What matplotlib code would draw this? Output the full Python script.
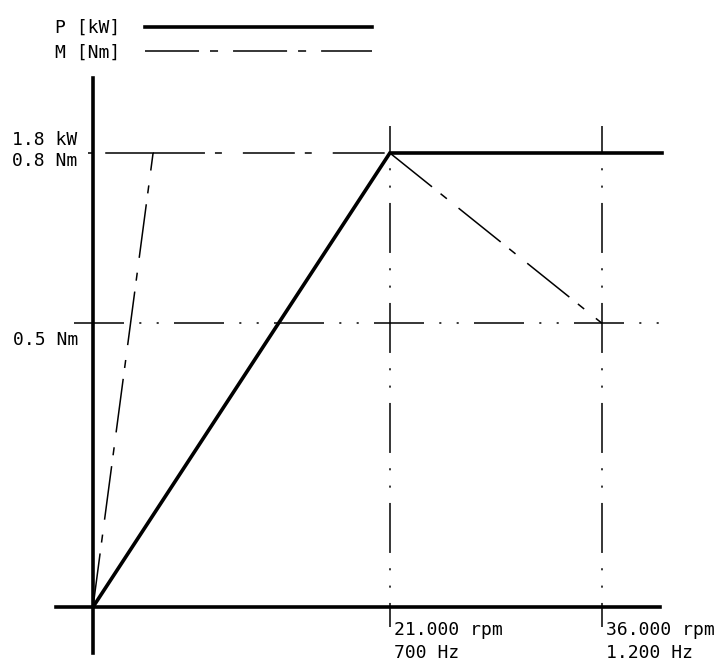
import numpy as np
import matplotlib
matplotlib.use('Agg')
import matplotlib.pyplot as plt

plt.rcParams['font.family'] = ['DejaVu Sans Mono', 'DejaVu Sans']
plt.rcParams['font.size'] = 13
plt.rcParams['lines.scale_dashes'] = False

#%% Daten (Drehzahl in rpm, Leistung in kW, Moment in Nm)
n_p = [0, 21000, 40250]           # P-Kurve
p_kw = [0, 1.8, 1.8]
n_m_rise = [0, 4250]              # M-Anstieg
m_rise = [0, 0.8]
n_m_flat = [4250, 21000]          # M konstant
m_flat = [0.8, 0.8]
n_m_fall = [21000, 36000]         # M-Abfall (Feldschwaechung)
m_fall = [0.8, 0.5]
n_m_ref = [920, 4250]             # Hilfslinie 0.8 Nm links
m_ref_line = [0.8, 0.8]

n_marks = [21000, 36000]
rpm_labels = ['21.000 rpm', '36.000 rpm']
hz_labels = ['700 Hz', '1.200 Hz']

p_max = 1.8
m_max = 0.8
m_ref = 0.5

#%% Skalierung (Pixel -> Daten)
W, H = 719, 664
x0_px, y0_px = 93, 607           # Ursprung in Pixeln
px_per_rpm = 14.137 / 1000
px_per_kw = 454 / 1.8
px_per_nm = 454 / 0.8

fig = plt.figure(figsize=(W/100, H/100), dpi=100)
ax = fig.add_axes([0, 0, 1, 1])
ax.set_xlim(-x0_px/px_per_rpm, (W - x0_px)/px_per_rpm)
ax.set_ylim(-(H - y0_px)/px_per_kw, y0_px/px_per_kw)
ax2 = ax.twinx()
ax2.set_ylim(-(H - y0_px)/px_per_nm, y0_px/px_per_nm)

for a in (ax, ax2):
    a.set_xticks([])
    a.set_yticks([])
    for s in a.spines.values():
        s.set_visible(False)
    a.patch.set_visible(False)

# Achsen
ax.spines['left'].set_visible(True)
ax.spines['left'].set_position(('data', 0))
ax.spines['left'].set_bounds(-46/px_per_kw, 529/px_per_kw)
ax.spines['left'].set_linewidth(2.6)
ax.spines['bottom'].set_visible(True)
ax.spines['bottom'].set_position(('data', 0))
ax.spines['bottom'].set_bounds(-37/px_per_rpm, 567/px_per_rpm)
ax.spines['bottom'].set_linewidth(2.6)

dash_m = (0, (38.9, 7.9, 5.8, 10.8))             # lang - kurz
dash_flat = (0, (37.4, 7.2, 5.0, 15.1))
dash_ref = (0, (36, 11, 1.5, 11, 1.5, 11))       # strich - punkt - punkt
dash_vert = (16.6, (36, 11, 1.5, 11, 1.5, 11))

# P-Kurve
ax.plot(n_p, p_kw, '-k', linewidth=2.6, solid_joinstyle='miter', label='P [kW]')

# M-Kurve
ax2.plot(n_m_rise, m_rise, color='k', linewidth=1.1, linestyle=dash_m)
ax2.plot(n_m_flat, m_flat, color='k', linewidth=1.1, linestyle=dash_flat)
ax2.plot(n_m_fall, m_fall, color='k', linewidth=1.1, linestyle=dash_m)
ax2.plot(n_m_ref, m_ref_line, color='k', linewidth=1.1)
ax2.plot([], [], color='k', linewidth=1.1, linestyle=dash_m, label='M [Nm]')

# Hilfslinien
ax2.hlines(m_ref, -19/px_per_rpm, 567/px_per_rpm, color='k', linewidth=1.1,
           linestyle=dash_ref)
ax2.hlines(m_max, -5/px_per_rpm, 0, color='k', linewidth=1.1)
for n in n_marks:
    ax.plot([n, n], [481/px_per_kw, -20/px_per_kw], color='k', linewidth=1.1,
            linestyle=dash_vert)

# Beschriftungen y
ax.annotate('1.8 kW', xy=(0, p_max), xytext=(-81, 13), textcoords='offset pixels',
            ha='left', va='center')
ax2.annotate('0.8 Nm', xy=(0, m_max), xytext=(-81, -8), textcoords='offset pixels',
             ha='left', va='center')
ax2.annotate('0.5 Nm', xy=(0, m_ref), xytext=(-80, -17), textcoords='offset pixels',
             ha='left', va='center')

# Beschriftungen x
for n, r, hz in zip(n_marks, rpm_labels, hz_labels):
    ax.annotate(r, xy=(n, 0), xytext=(4, -23), textcoords='offset pixels',
                ha='left', va='center')
    ax.annotate(hz, xy=(n, 0), xytext=(4, -46), textcoords='offset pixels',
                ha='left', va='center')

# Legende
h1, l1 = ax.get_legend_handles_labels()
h2, l2 = ax2.get_legend_handles_labels()
leg = ax2.legend(h1 + h2, l1 + l2, loc='upper left', bbox_to_anchor=(55/W, 1 - 19/H),
                 bbox_transform=fig.transFigure, markerfirst=False, frameon=False,
                 handlelength=12.57, handletextpad=1.38, labelspacing=0.35,
                 borderpad=0, borderaxespad=0)

fig.savefig('out.png', dpi=100)
